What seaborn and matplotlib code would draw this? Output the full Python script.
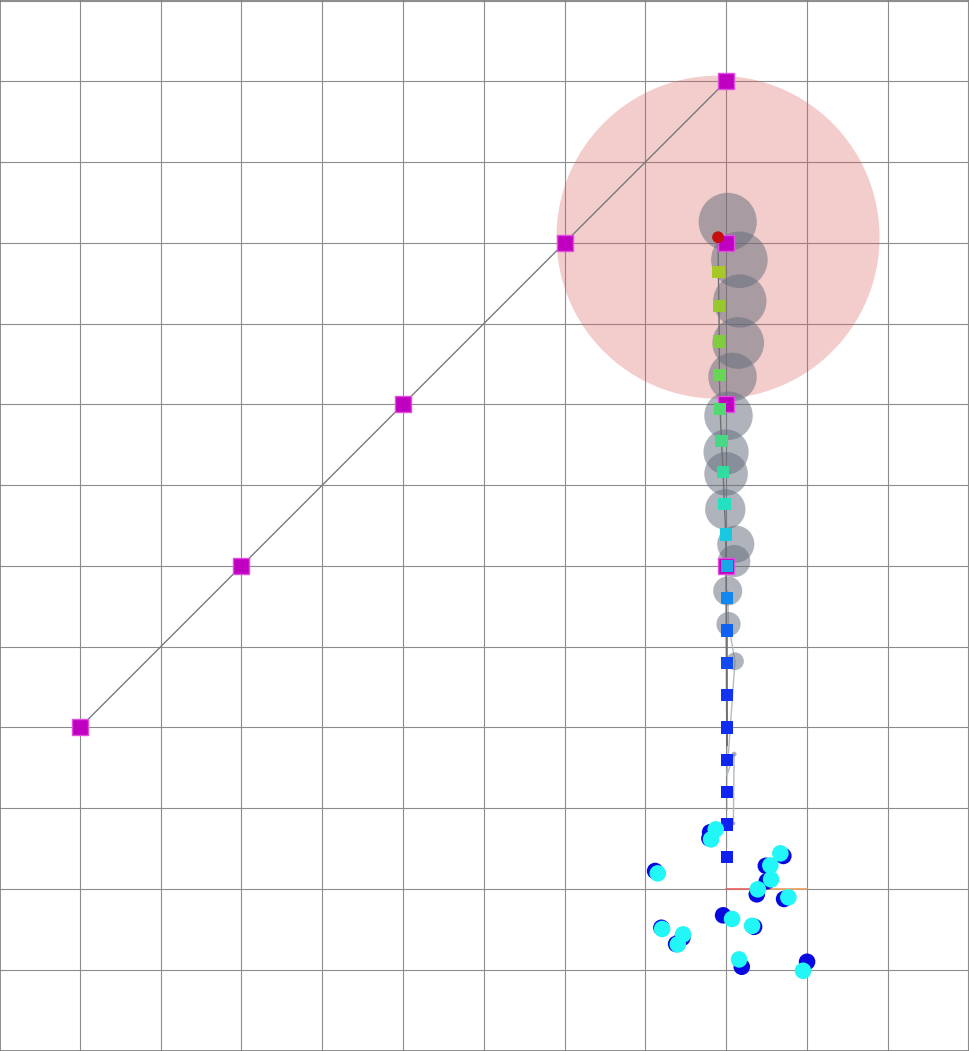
import matplotlib.pyplot as plt
from matplotlib.patches import Circle
import numpy as np
import pandas as pd
import seaborn as sns

# arm links (magenta joints)
arm_x = [-8, -6, -4, -2, 0]
arm_y = [2, 4, 6, 8, 10]
extra_x = [0, 0, 0]
extra_y = [8, 6, 4]

# reach circle
reach_cx, reach_cy, reach_r = -0.1, 8.07, 2.0

# body trajectory (gray discs)
body_x = [0.02, 0.165, 0.17, 0.15, 0.08, 0.03, 0.0, 0.0, -0.01, 0.12, 0.10, 0.02, 0.03, 0.11, 0.10, 0.09]
body_y = [8.26, 7.79, 7.28, 6.76, 6.34, 5.86, 5.41, 5.14, 4.70, 4.27, 4.06, 3.69, 3.28, 2.82, 1.67, 0.81]
body_r = [0.36, 0.35, 0.33, 0.32, 0.30, 0.30, 0.28, 0.27, 0.25, 0.23, 0.20, 0.18, 0.15, 0.11, 0.03, 0.025]

# light path through lower body centres
path_x = [0.02, 0.03, 0.11, 0.01, 0.01, 0.10, 0.01, 0.09, 0.01]
path_y = [3.69, 3.28, 2.82, 2.40, 2.00, 1.67, 1.20, 0.81, 0.03]

# waypoints (coloured squares)
way_x = [-0.095, -0.087, -0.087, -0.083, -0.074, -0.058, -0.037, -0.021, -0.004, 0.009,
         0.012, 0.012, 0.012, 0.009, 0.009, 0.009, 0.009, 0.009, 0.009]
way_y = [7.64, 7.22, 6.78, 6.36, 5.94, 5.55, 5.16, 4.77, 4.39, 4.00,
         3.60, 3.20, 2.80, 2.40, 2.00, 1.60, 1.20, 0.80, 0.40]
way_colors = ["#a8c828", "#98c830", "#82cc40", "#68d458", "#52d870", "#46d884", "#30dca0",
              "#22e0c0", "#18c8e0", "#18a8e8", "#1088f0", "#1062f0", "#104af0", "#1034f0",
              "#102cf0", "#1026f0", "#1022f0", "#1020f0", "#1020f0"]

target_x, target_y = -0.1, 8.07

# footholds: blue and cyan pairs
blue_x = [-0.198, -0.207, -0.879, 0.709, 0.492, 0.504, 0.380, 0.718, -0.037, 0.347, -0.801, -0.541, -0.619, 0.194, 1.003]
blue_y = [0.702, 0.627, 0.223, 0.409, 0.287, 0.095, -0.066, -0.124, -0.326, -0.468, -0.480, -0.604, -0.681, -0.963, -0.901]
cyan_x = [-0.128, -0.186, -0.846, 0.672, 0.548, 0.557, 0.392, 0.771, 0.074, 0.322, -0.792, -0.532, -0.598, 0.161, 0.953]
cyan_y = [0.738, 0.614, 0.193, 0.441, 0.292, 0.119, -0.004, -0.103, -0.371, -0.456, -0.495, -0.562, -0.686, -0.872, -1.013]

sns.set_style("white")
fig = plt.figure(figsize=(9.7, 10.51), dpi=100)
ax = fig.add_axes([0, 0, 1, 1])

ax.set_xticks(np.arange(-9, 4, 1))
ax.set_yticks(np.arange(-2, 12, 1))
ax.grid(True, color="#8c8c8c", linewidth=0.8)
ax.set_axisbelow(True)
ax.tick_params(length=0, labelbottom=False, labelleft=False)
for s in ax.spines.values():
    s.set_color("#7a7a7a")
    s.set_linewidth(1.2)

ax.add_patch(Circle((reach_cx, reach_cy), reach_r, facecolor=(0.85, 0.35, 0.35), alpha=0.3,
                    edgecolor="none", zorder=1))

path = pd.DataFrame({"x": path_x, "y": path_y})
sns.lineplot(data=path, x="x", y="y", sort=False, color="#b4bac2", linewidth=1.0, ax=ax, zorder=1.5)

for cx, cy, r in zip(body_x, body_y, body_r):
    ax.add_patch(Circle((cx, cy), r, facecolor=(0.38, 0.42, 0.48), alpha=0.5,
                        edgecolor="none", zorder=2))

way = pd.DataFrame({"x": [target_x] + way_x, "y": [target_y] + way_y})
sns.lineplot(data=way, x="x", y="y", sort=False, color="#707070", linewidth=1.0, ax=ax, zorder=3)

arm = pd.DataFrame({"x": arm_x, "y": arm_y})
sns.lineplot(data=arm, x="x", y="y", sort=False, color="#7a7a7a", linewidth=1.0, ax=ax, zorder=3)

ax.plot([0, 0.5], [0, 0], color="#e86060", linewidth=1.2, zorder=3)
ax.plot([0.5, 1], [0, 0], color="#f0a060", linewidth=1.2, zorder=3)

joints = pd.DataFrame({"x": arm_x + extra_x, "y": arm_y + extra_y})
sns.scatterplot(data=joints, x="x", y="y", marker="s", s=135, color="#c000c0",
                edgecolor="#e050e0", linewidth=1.0, ax=ax, zorder=4)

wp = pd.DataFrame({"x": way_x, "y": way_y, "k": range(len(way_x))})
sns.scatterplot(data=wp, x="x", y="y", hue="k", palette=way_colors, marker="s", s=78,
                edgecolor="none", legend=False, ax=ax, zorder=5)

sns.scatterplot(x=[target_x], y=[target_y], color="#c41010", s=72, edgecolor="none", ax=ax, zorder=6)

sns.scatterplot(x=blue_x, y=blue_y, color="#0808e0", s=142, edgecolor="none", ax=ax, zorder=6)
sns.scatterplot(x=cyan_x, y=cyan_y, color="#22f6f6", s=142, edgecolor="none", ax=ax, zorder=7)

ax.set_xlim(-8.99, 3.02)
ax.set_ylim(-2.006, 11.007)
ax.set_aspect("auto")
ax.set_xlabel("")
ax.set_ylabel("")

fig.savefig("out.png", dpi=100)
